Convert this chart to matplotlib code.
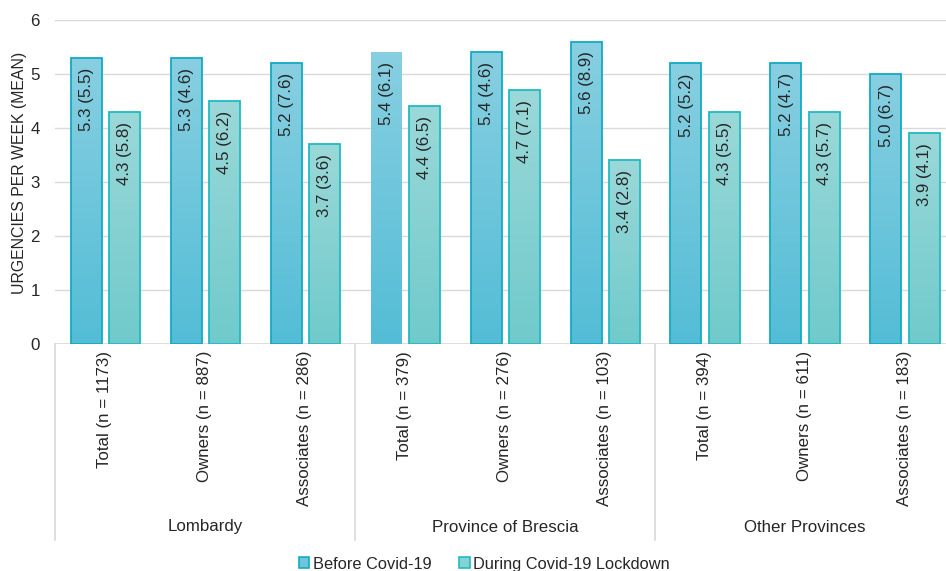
import numpy as np
import matplotlib
matplotlib.use("Agg")
import matplotlib.pyplot as plt
from matplotlib.patches import Rectangle
from matplotlib.colors import LinearSegmentedColormap

plt.rcParams['font.family'] = ['Liberation Sans', 'DejaVu Sans']

# ---- data ----
groups = ["Lombardy", "Province of Brescia", "Other Provinces"]
categories = ["Total (n = 1173)", "Owners (n = 887)", "Associates (n = 286)",
              "Total (n = 379)", "Owners (n = 276)", "Associates (n = 103)",
              "Total (n = 394)", "Owners (n = 611)", "Associates (n = 183)"]
before_mean = [5.3, 5.3, 5.2, 5.4, 5.4, 5.6, 5.2, 5.2, 5.0]
before_sd = [5.5, 4.6, 7.6, 6.1, 4.6, 8.9, 5.2, 4.7, 6.7]
during_mean = [4.3, 4.5, 3.7, 4.4, 4.7, 3.4, 4.3, 4.3, 3.9]
during_sd = [5.8, 6.2, 3.6, 6.5, 7.1, 2.8, 5.5, 5.7, 4.1]
series_names = ["Before Covid-19", "During Covid-19 Lockdown"]

# ---- styling ----
before_top, before_bot, before_edge = "#88cfe1", "#53bdd6", "#14aac4"
during_top, during_bot, during_edge = "#9bd8d9", "#70cacb", "#20bbc3"
grid_col = "#d9d9d9"
text_col = "#262626"
fs = 12.2

W, H, DPI = 946, 571, 100
fig = plt.figure(figsize=(W / DPI, H / DPI), dpi=DPI)
x0_px, x1_px = 55, 955
y0_px, y1_px = 344, 20
ax = fig.add_axes([x0_px / W, (H - y0_px) / H, (x1_px - x0_px) / W, (y0_px - y1_px) / H])

x = np.arange(len(categories))
bw = 0.31
off = 0.19

def gradient_bars(bars, top, bot):
    cmap = LinearSegmentedColormap.from_list("g", [bot, top])
    grad = np.linspace(0, 1, 256).reshape(-1, 1)
    for b in bars:
        bx, by = b.get_x(), b.get_y()
        bwid, bh = b.get_width(), b.get_height()
        im = ax.imshow(grad, cmap=cmap, aspect="auto", origin="lower",
                       extent=[bx, bx + bwid, by, by + bh], zorder=2,
                       interpolation="bilinear")
        im.set_clip_path(b)

b1 = ax.bar(x - off, before_mean, bw, facecolor="none", edgecolor=before_edge,
            linewidth=1.3, zorder=3)
b2 = ax.bar(x + off, during_mean, bw, facecolor="none", edgecolor=during_edge,
            linewidth=1.3, zorder=3)
# the Brescia total bar is drawn without an outline
b1[3].set_edgecolor("none")
gradient_bars(b1, before_top, before_bot)
gradient_bars(b2, during_top, during_bot)

# value labels inside the bars
for bars, means, sds in ((b1, before_mean, before_sd), (b2, during_mean, during_sd)):
    for b, m, s in zip(bars, means, sds):
        ax.annotate(f"{m:.1f} ({s:.1f})", (b.get_x() + b.get_width() / 2, m),
                    xytext=(0, -10), textcoords="offset pixels",
                    rotation=90, ha="center", va="top", fontsize=fs,
                    color=text_col, zorder=4)

ax.set_xlim(-0.5, len(categories) - 0.5)
ax.set_ylim(0, 6)
ax.set_yticks(range(0, 7))
ax.yaxis.grid(True, color=grid_col, linewidth=1)
ax.set_axisbelow(True)
for sp in ax.spines.values():
    sp.set_visible(False)
ax.tick_params(axis="y", length=0, pad=11, labelsize=fs, labelcolor=text_col)
ax.set_ylabel("URGENCIES PER WEEK (MEAN)", fontsize=11.4, color=text_col)
ax.yaxis.set_label_coords(-(x0_px - 27) / (x1_px - x0_px), (y0_px - 173) / (y0_px - y1_px))

ax.set_xticks(x)
ax.set_xticklabels(categories, rotation=90, fontsize=fs, color=text_col)
ax.tick_params(axis="x", length=0, pad=5)

# category axis box
ax.axhline(0, color=grid_col, linewidth=1.2, zorder=1)
depth = -(540 - y0_px) / (y0_px - y1_px)
trans = ax.get_xaxis_transform()
for gx in [-0.5, 2.5, 5.5, 8.5]:
    ax.plot([gx, gx], [0, depth], transform=trans, color=grid_col,
            linewidth=1.2, clip_on=False)
glab_y = -(527 - y0_px) / (y0_px - y1_px)
for i, g in enumerate(groups):
    ax.text(3 * i + 1, glab_y, g, transform=trans, ha="center", va="center",
            fontsize=fs, color=text_col)

handles = [Rectangle((0, 0), 1, 1, facecolor="#6ec6dc", edgecolor=before_edge, linewidth=1.2),
           Rectangle((0, 0), 1, 1, facecolor="#86d1d2", edgecolor=during_edge, linewidth=1.2)]
fig.legend(handles, series_names, loc="center", bbox_to_anchor=(0.512, 0.012),
           ncol=2, frameon=False, fontsize=11.8, handlelength=0.65, handleheight=0.65,
           handletextpad=0.2, columnspacing=1.7, labelcolor=text_col)

fig.savefig("out.png", dpi=DPI)
